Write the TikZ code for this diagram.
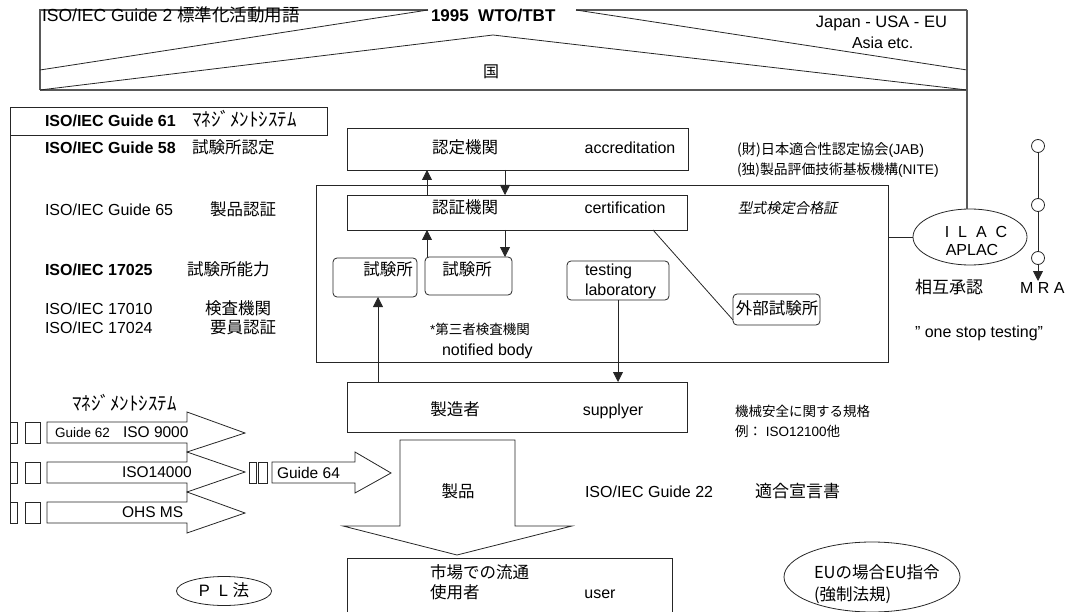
\documentclass[tikz,border=0pt]{standalone}
\usepackage{fontspec}
\setmainfont{Liberation Sans}
\newfontfamily\jp{Noto Sans CJK JP}
\newfontfamily\jpit[FakeSlant=0.2]{Noto Sans CJK JP}
\usetikzlibrary{arrows.meta,shapes.geometric}
\newcommand\fsz[1]{\fontsize{#1pt}{#1pt}\selectfont}
\tikzset{
 ln/.style={line width=0.8pt, draw=black!85},
 fr/.style={line width=1.1pt, draw=black!65},
 box/.style={ln, rectangle, inner sep=0pt, outer sep=0pt},
 rbox/.style={box, rounded corners=4pt},
 ell/.style={ln, ellipse, inner sep=0pt, outer sep=0pt},
 arr/.style={ln, -{Triangle[length=10pt,width=10pt]}},
 tx/.style={inner sep=0pt, outer sep=0pt, text height=11.5pt, text depth=0pt, font=\fsz{16}},
 tw/.style={tx, anchor=west},
 sm/.style={text height=9.7pt, font=\fsz{13.5}},
 jw/.style={tw, font=\fsz{16.5}\jp},
}
\begin{document}
\begin{tikzpicture}[x=1pt,y=-1pt]
\useasboundingbox (0,0) rectangle (1067,612);

% ---------- top roof frame ----------
\draw[fr] (40,90) -- (40,10) -- (428,10);
\draw[fr] (576,10) -- (967,10);
\draw[fr] (40,90) -- (967,90);
\draw[ln] (40,70) -- (428,10);
\draw[ln] (576,10) -- (967,70);
\draw[ln] (40,90) -- (493,35) -- (967,90);
\node[tw, font=\fsz{17.5}] (h1) at (42,16) {ISO/IEC Guide 2 {\jp 標準化活動用語}};
\node[tw, font=\fsz{17}\bfseries] (h2) at (431,16) {1995\ \ WTO/TBT};
\node[tx, anchor=east, font=\fsz{16.5}] (h3) at (947,22) {Japan - USA - EU};
\node[tw] (h4) at (852,43) {Asia etc.};
\node[tx, font=\fsz{16}\jp] (h5) at (491,72) {国};

% ---------- left column ----------
\node[box, minimum width=317pt, minimum height=28pt] (g61) at (168.5,121) {};
\node[tw, font=\fsz{16}\bfseries] (l1) at (45,121) {ISO/IEC Guide 61};
\node[tw, font=\fsz{19}\jp] (l1j) at (192,121) {ﾏﾈｼﾞﾒﾝﾄｼｽﾃﾑ};
\node[tw, font=\fsz{16}\bfseries] (l2) at (45,148) {ISO/IEC Guide 58};
\node[jw] (l2j) at (192,148) {試験所認定};
\node[tw] (l3) at (45,210) {ISO/IEC Guide 65};
\node[jw] (l3j) at (210,210) {製品認証};
\node[tw, font=\fsz{16}\bfseries] (l4) at (45,270) {ISO/IEC 17025};
\node[jw] (l4j) at (187,270) {試験所能力};
\node[tw] (l5) at (45,309) {ISO/IEC 17010};
\node[jw] (l5j) at (205,309) {検査機関};
\node[tw] (l6) at (45,328) {ISO/IEC 17024};
\node[jw] (l6j) at (210,328) {要員認証};
\coordinate (lb) at (10,523);
\draw[ln] (g61.south west) -- (lb);

% ---------- central boxes ----------
\node[box, minimum width=341pt, minimum height=42pt] (accr) at (517.5,149) {};
\node[box, minimum width=572pt, minimum height=177pt] (big) at (602,273.5) {};
\node[box, minimum width=340pt, minimum height=35pt] (cert) at (517,212.5) {};
\node[rbox, minimum width=84pt, minimum height=39pt] (lab1) at (375,277.5) {};
\node[rbox, minimum width=87pt, minimum height=38pt] (lab2) at (468.5,276) {};
\node[rbox, minimum width=102pt, minimum height=39pt] (tlab) at (618,280.5) {};
\node[rbox, minimum width=87pt, minimum height=31pt] (ext) at (776.5,309.5) {};
\node[box, minimum width=340pt, minimum height=50pt] (supp) at (517,407) {};
\node[box, minimum width=325pt, minimum height=80pt] (user) at (509.5,598) {};

\node[tx, font=\fsz{16.5}\jp] (t1) at (465,148) {認定機関};
\node[tx] (t2) at (630,148) {accreditation};
\node[tx, font=\fsz{16.5}\jp] (t3) at (465,208) {認証機関};
\node[tx] (t4) at (625,208) {certification};
\node[tx, font=\fsz{16.5}\jp] (t5) at (388,270) {試験所};
\node[tx, font=\fsz{16.5}\jp] (t6) at (467,270) {試験所};
\node[tw] (t7) at (585,270) {testing};
\node[tw] (t8) at (585,290) {laboratory};
\node[tx, font=\fsz{16.5}\jp] (t9) at (777,309) {外部試験所};
\node[tw, font=\fsz{14.2}\jpit] (t10) at (738,208) {型式検定合格証};
\node[tw, sm] (t11) at (430,330) {*{\jp 第三者検査機関}};
\node[tw] (t12) at (442,350) {notified body};
\node[tx, font=\fsz{16.5}\jp] (t13) at (455,410) {製造者};
\node[tx] (t14) at (613,410) {supplyer};
\node[tx, font=\fsz{16.5}\jp] (t15) at (458,492) {製品};
\node[tw] (t16) at (585,492) {ISO/IEC Guide 22};
\node[jw, font=\fsz{17}\jp] (t17) at (755,492) {適合宣言書};
\node[jw] (t18) at (430,573) {市場での流通};
\node[jw] (t19) at (430,593) {使用者};
\node[tx] (t20) at (600,593) {user};

% arrows in centre
\coordinate (xa) at (427,0);
\coordinate (xb) at (505,0);
\coordinate (xc) at (653,0);
\coordinate (xd) at (378,0);
\coordinate (xe) at (618,0);
\draw[arr] (cert.north -| xa) -- (accr.south -| xa);
\draw[arr] (accr.south -| xb) -- (cert.north -| xb);
\draw[arr] (lab2.north -| xa) -- (cert.south -| xa);
\draw[arr] (cert.south -| xb) -- (lab2.north -| xb);
\draw[arr] (supp.north -| xd) -- (lab1.south -| xd);
\draw[arr] (tlab.south -| xe) -- (supp.north -| xe);
\draw[ln] (cert.south -| xc) -- ([yshift=-10.5pt]ext.west);

% product arrow
\draw[ln] (400,440) -- (515,440) -- (515,526) -- (572,526) -- (457,555) -- (343,526) -- (400,526) -- cycle;

% ---------- right side ----------
\node[tw, sm, font=\fsz{14.2}] (r1) at (737,150) {{\jp (財)日本適合性認定協会}(JAB)};
\node[tw, sm, font=\fsz{13.8}] (r2) at (737,170) {{\jp (独)製品評価技術基板機構}(NITE)};
\node[ell, minimum width=114pt, minimum height=56pt] (ilac) at (970,237) {};
\node[tx] (r3) at (976,232) {I\ \ L\ \ A\ \ C};
\node[tx] (r4) at (972,250) {APLAC};
\coordinate (frTR) at (967,10);
\draw[fr] (frTR) -- (frTR |- ilac.north);
\draw[ln] (ilac.west) -- (ilac.west -| big.east);
\node[ell, circle, minimum size=13pt] (c1) at (1038,146) {};
\node[ell, circle, minimum size=13pt] (c2) at (1038,205) {};
\node[ell, circle, minimum size=13pt] (c3) at (1038,258) {};
\coordinate (mraT) at (1038,281);
\draw[ln] (c1) -- (c2) -- (c3);
\draw[arr] (c3) -- (mraT);
\node[jw, font=\fsz{17}\jp] (r5) at (915,288) {相互承認};
\node[tw] (r6) at (1020,288) {M\ R\ A};
\node[tw] (r7) at (915,332) {" one stop testing"};
\node[tw, sm, font=\fsz{13.5}\jp] (r8) at (735,412) {機械安全に関する規格};
\node[tw, sm, font=\fsz{13.5}] (r9) at (735,432) {{\jp 例：}\ ISO12100{\jp 他}};
\node[ell, minimum width=176pt, minimum height=70pt] (eu) at (872,577) {};
\node[jw] (r10) at (814,573) {EUの場合EU指令};
\node[jw] (r11) at (814,595) {(強制法規)};
\node[ell, minimum width=95pt, minimum height=29pt] (pl) at (224,591) {};
\node[tx, font=\fsz{16.5}] (r12) at (224,591) {P\ \ L\ {\jp 法}};

% ---------- management system arrows ----------
\node[tw, font=\fsz{19}\jp] (m0) at (72,405) {ﾏﾈｼﾞﾒﾝﾄｼｽﾃﾑ};
\draw[ln] (47,422) -- (187,422) -- (187,412) -- (245,433) -- (187,452) -- (187,443) -- (47,443) -- cycle;
\draw[ln] (47,462) -- (187,462) -- (187,452) -- (245,472) -- (187,492) -- (187,483) -- (47,483) -- cycle;
\draw[ln] (47,502) -- (187,502) -- (187,492) -- (245,513) -- (187,533) -- (187,523) -- (47,523) -- cycle;
\foreach \ya/\yb in {422/443, 462/483, 502/523} {
  \draw[ln] (10,\ya) rectangle (17,\yb);
  \draw[ln] (25,\ya) rectangle (40,\yb);
}
\node[tw, font=\fsz{13.5}] (m1) at (55,432) {Guide 62};
\node[tw, font=\fsz{15.5}] (m2) at (123,432) {ISO 9000};
\node[tw, font=\fsz{15.5}] (m3) at (122,472) {ISO14000};
\node[tw, font=\fsz{15.5}] (m4) at (122,512) {OHS MS};
\draw[ln] (249,462) rectangle (256,483);
\draw[ln] (258,462) rectangle (267,483);
\draw[ln] (272,462) -- (355,462) -- (355,452) -- (391,473) -- (355,493) -- (355,483) -- (272,483) -- cycle;
\node[tw, font=\fsz{15.5}] (m5) at (277,473) {Guide 64};
\end{tikzpicture}
\end{document}
